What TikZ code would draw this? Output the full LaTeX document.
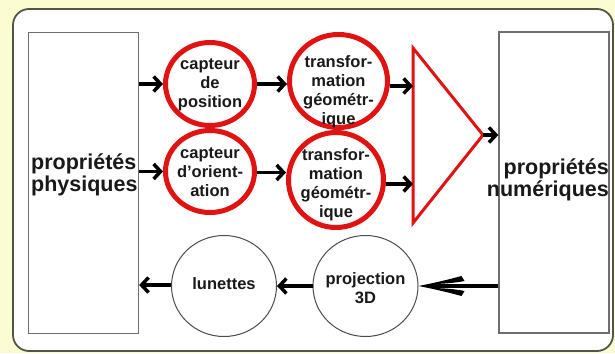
\documentclass[tikz,border=0pt]{standalone}
\usepackage{fontspec}
\setmainfont{Liberation Sans}
\usetikzlibrary{arrows.meta,shapes.geometric}
\definecolor{bgyellow}{RGB}{252,252,210}
\definecolor{framegray}{RGB}{85,85,70}
\definecolor{boxgray}{RGB}{110,110,110}
\definecolor{redc}{RGB}{225,18,18}
\begin{document}
\begin{tikzpicture}[x=1pt,y=-1pt,
  bigbox/.style={draw=boxgray,line width=1.3pt,fill=white,minimum width=110pt,minimum height=301pt,inner sep=0pt},
  redell/.style={ellipse,draw=redc,line width=5pt,fill=white,inner sep=0pt},
  grayell/.style={ellipse,draw=black!70,line width=1pt,fill=white,inner sep=0pt,minimum width=105pt,minimum height=101pt},
  smalltxt/.style={font=\fontsize{16.5}{19}\selectfont\bfseries,align=center,text=black!90,inner sep=0pt},
  bigtxt/.style={font=\fontsize{21.5}{22}\selectfont\bfseries,text=black!90,inner sep=0pt},
  arr/.style={line width=3.5pt,-{Straight Barb[length=7pt,width=15pt]}},
]
\useasboundingbox (0,0) rectangle (615,353);
\fill[bgyellow] (0,0) rectangle (615,353);
\draw[framegray,line width=1.8pt,fill=white,rounded corners=16pt] (13,9) rectangle (613,351);

% boxes
\node[bigbox] (L) at (83.5,183) {};
\node[bigbox] (R) at (554,182.5) {};
\node[bigtxt,align=left,anchor=west] (Lt) at (31,175) {propriétés\\physiques};
\node[bigtxt,align=right,anchor=east] (Rt) at (609,180) {propriétés\\numériques};

% red circles
\node[redell,minimum width=89pt,minimum height=83pt] (cA) at (210,84) {};
\node[redell,minimum width=89pt,minimum height=82pt] (cB) at (210,171.5) {};
\node[redell,minimum width=98pt,minimum height=93pt] (tA) at (338.5,81) {};
\node[redell,minimum width=95pt,minimum height=95pt] (tB) at (336,180) {};

\node[smalltxt] (cAt) at (210,85) {capteur\\de\\position};
\node[smalltxt] (cBt) at (210,172) {capteur\\d'orient-\\ation};
\node[smalltxt] (tAt) at (338.5,92) {transfor-\\mation\\géométr-\\ique};
\node[smalltxt] (tBt) at (336,185) {transfor-\\mation\\géométr-\\ique};

% triangle
\coordinate (triT) at (413,48);
\coordinate (triB) at (413,223);
\coordinate (triP) at (483,135);
\draw[redc,line width=3pt,line join=miter] (triT) -- (triP) -- (triB) -- cycle;

% bottom circles
\node[grayell] (lun) at (224,286) {};
\node[grayell] (proj) at (365.5,286) {};
\node[smalltxt] (lunt) at (224,284) {lunettes};
\node[smalltxt] (projt) at (365.5,288) {projection\\3D};

% arrows
\draw[arr] (L.east |- cA.west) -- (cA.west);
\draw[arr] (L.east |- cB.west) -- (cB.west);
\draw[arr] (cA.east) -- (cA.east -| tA.west);
\draw[arr] ([yshift=-1pt]cB.east) -- ([yshift=-1pt]cB.east -| tB.west);
\draw[arr] ([yshift=-5pt]tA.east) -- ([yshift=-5pt]tA.east -| triT);
\draw[arr] ([yshift=-4pt]tB.east) -- ([yshift=-4pt]tB.east -| triT);
\draw[arr] (triP) -- (triP -| R.west);
% big arrow R -> proj
\draw[line width=4.5pt] (R.west |- proj.east) -- ([xshift=20pt]proj.east);
\begin{scope}[shift={(proj.east)}]
\fill (0,0) .. controls (18,-3.5) and (32,-7) .. (43,-10) -- (46,-5)
  .. controls (37,-3.2) and (28,-2.5) .. (21,-2.2) -- (21,2.2)
  .. controls (28,2.5) and (37,3.2) .. (46,5) -- (43,10)
  .. controls (32,7) and (18,3.5) .. (0,0) -- cycle;
\end{scope}
\draw[arr] (proj.west) -- (lun.east);
\draw[arr] ([yshift=1pt]lun.west) -- ([yshift=1pt]lun.west -| L.east);
\end{tikzpicture}
\end{document}
